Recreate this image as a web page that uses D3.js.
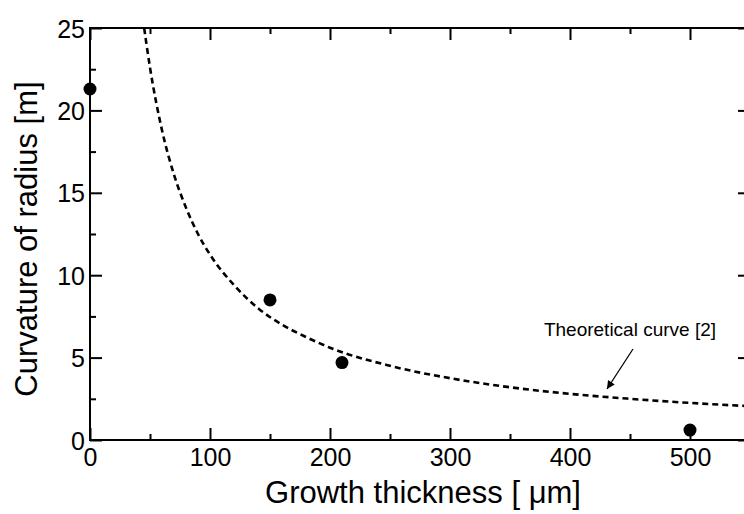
<!DOCTYPE html>
<html>
<head>
<meta charset="utf-8">
<script src="https://cdn.jsdelivr.net/npm/d3@7"></script>
<style>
  html, body { margin: 0; padding: 0; background: #fff; }
  svg { display: block; font-family: Arial, "Liberation Sans", Helvetica, sans-serif; }
</style>
</head>
<body>
<svg id="chart" width="744" height="514"></svg>
<script>
// Measured samples: growth thickness [µm] vs. radius of curvature [m]
const sampleThickness = [0, 150, 210, 500];
const sampleRadius = [21.3, 8.5, 4.7, 0.6];

// Theoretical curve [2], sampled along the thickness axis
const curveThickness = [44, 50, 60, 70, 80, 90, 100, 120, 140, 160, 180, 200, 250, 300, 350, 400, 450, 500, 550];
const curveRadius = [25.6, 22.6, 18.8, 16.1, 14.1, 12.5, 11.25, 9.4, 8.0, 7.0, 6.25, 5.6, 4.5, 3.75, 3.2, 2.8, 2.5, 2.25, 2.05];

const xTicks = [0, 100, 200, 300, 400, 500];
const xMinorTicks = [50, 150, 250, 350, 450, 550];
const yTicks = [0, 5, 10, 15, 20, 25];
const yMinorTicks = [2.5, 7.5, 12.5, 17.5, 22.5];

const xTitle = "Growth thickness [ μm]";
const yTitle = "Curvature of radius [m]";
const noteText = "Theoretical curve [2]";

const svg = d3.select("#chart");
const plotLeft = 90, plotRight = 750, plotTop = 28, plotBottom = 440;

const x = d3.scaleLinear().domain([0, 550]).range([plotLeft, plotRight]);
const y = d3.scaleLinear().domain([0, 25]).range([plotBottom, plotTop]);

const majorLen = 12, minorLen = 6;
const defs = svg.append("defs");

// Clip region for plot contents
defs.append("clipPath").attr("id", "plot-clip")
  .append("rect").attr("x", plotLeft).attr("y", plotTop)
  .attr("width", plotRight - plotLeft).attr("height", plotBottom - plotTop);

defs.append("marker")
  .attr("id", "arrowhead").attr("viewBox", "0 0 10 10")
  .attr("refX", 10).attr("refY", 5)
  .attr("markerWidth", 11).attr("markerHeight", 8)
  .attr("markerUnits", "userSpaceOnUse")
  .attr("orient", "auto")
  .append("path").attr("d", "M0,0 L10,5 L0,10 Z").attr("fill", "#000");

// Theoretical dashed curve
const curvePts = curveThickness.map((t, i) => [t, curveRadius[i]]);
svg.append("path")
  .datum(curvePts)
  .attr("clip-path", "url(#plot-clip)")
  .attr("fill", "none")
  .attr("stroke", "#000")
  .attr("stroke-width", 2.6)
  .attr("stroke-dasharray", "6,4")
  .attr("d", d3.line().x(d => x(d[0])).y(d => y(d[1])).curve(d3.curveMonotoneX));

// Axes with inward ticks on all four sides
function styleAxis(g) {
  g.select(".domain").remove();
  g.selectAll("line").attr("stroke", "#000").attr("stroke-width", 2);
}
const labelFont = "Arial, 'Liberation Sans', sans-serif";

svg.append("g").attr("transform", `translate(0,${plotBottom})`)
  .call(d3.axisBottom(x).tickValues(xTicks).tickSize(-majorLen).tickFormat(d3.format("d")))
  .call(styleAxis)
  .call(g => g.selectAll("text").attr("y", 8).attr("dy", "0.71em")
    .attr("font-size", 25).attr("fill", "#000").attr("font-family", labelFont));
svg.append("g").attr("transform", `translate(0,${plotBottom})`)
  .call(d3.axisBottom(x).tickValues(xMinorTicks).tickSize(-minorLen).tickFormat(""))
  .call(styleAxis);

svg.append("g").attr("transform", `translate(0,${plotTop})`)
  .call(d3.axisTop(x).tickValues(xTicks).tickSize(-majorLen).tickFormat(""))
  .call(styleAxis);
svg.append("g").attr("transform", `translate(0,${plotTop})`)
  .call(d3.axisTop(x).tickValues(xMinorTicks).tickSize(-minorLen).tickFormat(""))
  .call(styleAxis);

svg.append("g").attr("transform", `translate(${plotLeft},0)`)
  .call(d3.axisLeft(y).tickValues(yTicks).tickSize(-majorLen).tickFormat(d3.format("d")))
  .call(styleAxis)
  .call(g => g.selectAll("text").attr("x", -5).attr("dy", "0.36em")
    .attr("font-size", 25).attr("fill", "#000").attr("font-family", labelFont));
svg.append("g").attr("transform", `translate(${plotLeft},0)`)
  .call(d3.axisLeft(y).tickValues(yMinorTicks).tickSize(-minorLen).tickFormat(""))
  .call(styleAxis);

svg.append("g").attr("transform", `translate(${plotRight},0)`)
  .call(d3.axisRight(y).tickValues(yTicks).tickSize(-majorLen).tickFormat(""))
  .call(styleAxis);
svg.append("g").attr("transform", `translate(${plotRight},0)`)
  .call(d3.axisRight(y).tickValues(yMinorTicks).tickSize(-minorLen).tickFormat(""))
  .call(styleAxis);

// Frame
svg.append("rect")
  .attr("x", plotLeft).attr("y", plotTop)
  .attr("width", plotRight - plotLeft).attr("height", plotBottom - plotTop)
  .attr("fill", "none").attr("stroke", "#000").attr("stroke-width", 2);

// Measured points
svg.append("g").selectAll("circle")
  .data(sampleThickness.map((t, i) => [t, sampleRadius[i]]))
  .join("circle")
  .attr("cx", d => x(d[0]))
  .attr("cy", d => y(d[1]))
  .attr("r", 6.5)
  .attr("fill", "#000");

// Annotation with arrow
svg.append("text")
  .attr("x", 630).attr("y", 336)
  .attr("text-anchor", "middle")
  .attr("font-size", 19)
  .attr("fill", "#000")
  .text(noteText);
svg.append("line")
  .attr("x1", 633).attr("y1", 349)
  .attr("x2", 607).attr("y2", 389)
  .attr("stroke", "#000").attr("stroke-width", 1.3)
  .attr("marker-end", "url(#arrowhead)");

// Axis titles
svg.append("text")
  .attr("x", 423).attr("y", 503)
  .attr("text-anchor", "middle")
  .attr("font-size", 31)
  .attr("fill", "#000")
  .text(xTitle);
svg.append("text")
  .attr("transform", "translate(37,239) rotate(-90)")
  .attr("text-anchor", "middle")
  .attr("font-size", 31)
  .attr("fill", "#000")
  .text(yTitle);
</script>
</body>
</html>
